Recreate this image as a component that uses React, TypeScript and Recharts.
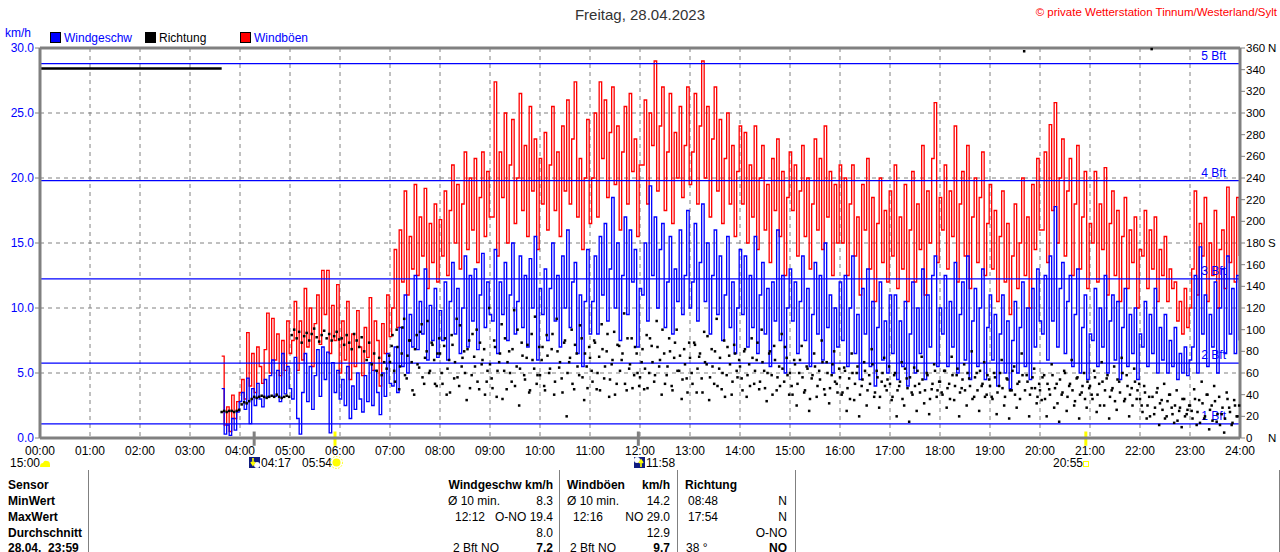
import React from "react";
import { CartesianGrid, ComposedChart, Line, ReferenceLine, XAxis, YAxis } from "recharts";

// Wind day chart of the Tinnum station: gusts (red steps), mean speed
// (blue steps) on km/h, direction as black dots on the 0..360 axis.

const FONT = '"Liberation Sans", Arial, sans-serif';
const GRAY = "#808080";
const BLUE = "#0000ff";
const RED = "#ff0000";
const YELLOW = "#ffff00";

// first reading at 03:38, then one every 3 minutes up to 23:59
const FIRST_MINUTE = 218;
const STEP_MINUTES = 3;

// one row per hour (03 has 8 readings, the rest 20)
const GUSTS = [
  6.3, 1.0, 2.4, 0.5, 3.3, 1.5, 2.8, 3.5,
  4.5, 3.0, 8.1, 4.0, 6.5, 3.5, 7.0, 5.5, 4.2, 6.8, 9.6, 5.0, 9.2, 6.0, 8.0, 4.8, 7.5, 5.2, 9.0, 6.5,
  7.5, 10.5, 5.2, 9.0, 6.0, 11.5, 7.0, 10.0, 5.5, 8.8, 11.0, 7.2, 12.9, 9.5, 12.9, 6.5, 10.2, 7.5, 11.8, 5.0,
  9.0, 6.0, 10.5, 4.5, 8.0, 5.5, 9.8, 7.0, 4.8, 8.5, 6.2, 10.8, 5.2, 9.0, 7.5, 4.0, 8.8, 6.5, 11.0, 7.8,
  10.0, 14.5, 8.5, 16.0, 12.0, 19.0, 11.0, 15.5, 13.0, 19.5, 12.5, 17.0, 14.0, 19.2, 11.5, 16.5, 13.5, 18.0, 12.0, 16.8,
  14.0, 19.0, 12.5, 17.5, 21.0, 15.0, 19.5, 13.0, 18.0, 22.0, 14.5, 20.0, 16.0, 21.5, 13.5, 18.5, 22.0, 15.5, 20.5, 17.0,
  17.0, 27.4, 14.0, 22.0, 18.5, 25.0, 15.0, 21.0, 24.5, 16.5, 20.0, 26.5, 17.5, 22.5, 15.5, 25.5, 19.0, 23.0, 14.5, 21.5,
  18.0, 23.5, 16.0, 21.0, 25.5, 17.5, 22.0, 15.5, 24.0, 19.0, 26.0, 18.0, 23.0, 27.4, 17.0, 21.5, 14.5, 20.0, 24.5, 16.5,
  20.0, 25.0, 17.0, 27.4, 21.5, 26.0, 18.5, 23.5, 27.0, 19.5, 24.0, 16.0, 22.0, 25.5, 18.0, 26.5, 20.5, 23.0, 15.5, 21.0,
  21.0, 26.0, 18.0, 25.0, 22.5, 29.0, 19.0, 24.0, 27.0, 17.5, 22.0, 26.5, 16.5, 23.5, 20.0, 25.5, 18.5, 22.5, 27.0, 19.5,
  22.0, 26.5, 18.0, 24.0, 29.0, 20.0, 25.5, 17.0, 23.0, 27.0, 19.0, 24.5, 16.5, 21.5, 25.0, 18.0, 22.5, 15.5, 20.5, 24.0,
  18.0, 23.5, 15.0, 21.0, 17.0, 24.0, 14.5, 20.0, 22.5, 16.0, 19.5, 13.5, 21.5, 17.5, 23.0, 15.5, 20.5, 12.5, 18.5, 22.0,
  17.5, 21.0, 14.0, 19.0, 22.5, 15.5, 20.0, 13.0, 18.0, 23.0, 16.0, 21.5, 14.5, 24.0, 17.0, 20.5, 12.5, 19.5, 15.0, 21.0,
  15.0, 20.0, 12.5, 18.0, 21.0, 14.0, 17.0, 11.0, 19.5, 16.0, 21.5, 13.0, 18.5, 10.5, 16.5, 20.0, 13.5, 17.5, 12.0, 19.0,
  14.0, 21.0, 11.5, 17.0, 13.0, 19.5, 10.5, 16.0, 20.5, 12.0, 18.0, 14.5, 22.5, 11.0, 19.0, 15.0, 21.5, 25.8, 13.5, 18.5,
  16.0, 21.0, 13.0, 19.0, 15.5, 24.0, 12.0, 18.0, 20.5, 14.0, 22.5, 11.5, 17.0, 20.0, 13.5, 18.5, 22.0, 12.5, 16.5, 19.5,
  13.0, 17.5, 10.5, 15.5, 19.0, 12.0, 16.5, 9.5, 14.0, 18.0, 11.5, 15.0, 20.0, 12.5, 17.0, 10.0, 19.5, 14.5, 21.5, 16.0,
  16.0, 22.0, 13.5, 24.1, 17.5, 25.8, 15.0, 20.0, 23.0, 14.0, 19.0, 21.5, 12.5, 18.0, 22.5, 13.0, 17.0, 20.5, 11.5, 16.5,
  15.0, 20.5, 12.0, 18.0, 14.5, 20.8, 11.0, 16.5, 19.0, 12.5, 17.5, 10.5, 15.5, 18.5, 11.5, 16.0, 13.5, 17.0, 10.0, 14.5,
  14.0, 17.5, 11.5, 16.0, 13.0, 17.0, 10.5, 14.5, 12.5, 15.5, 10.5, 13.0, 11.5, 12.0, 9.0, 10.5, 8.0, 11.5, 8.5, 10.0,
  13.0, 19.0, 11.0, 16.5, 14.0, 18.5, 10.5, 15.0, 12.5, 17.5, 10.0, 14.5, 16.0, 11.5, 19.3, 13.5, 17.0, 12.0, 18.5, 14.0,
];

const SPEEDS = [
  3.8, 0.3, 1.0, 0.2, 1.5, 0.6, 2.0, 2.8,
  3.5, 2.2, 4.6, 1.1, 3.8, 2.5, 4.2, 3.0, 2.4, 4.5, 3.2, 4.8, 6.0, 3.2, 5.2, 2.8, 6.5, 3.4, 5.5, 3.8,
  3.0, 6.2, 1.5, 0.3, 3.5, 6.5, 2.8, 5.5, 2.2, 4.8, 6.8, 3.2, 7.0, 4.5, 6.6, 0.4, 5.8, 3.5, 5.2, 3.0,
  4.5, 2.5, 5.5, 1.5, 4.0, 2.2, 5.0, 3.0, 2.0, 4.8, 2.8, 5.8, 2.5, 5.2, 3.5, 1.8, 5.0, 3.2, 6.5, 4.2,
  4.0, 7.0, 3.5, 8.5, 5.5, 11.0, 5.0, 9.5, 7.0, 12.5, 6.8, 10.5, 8.0, 13.0, 6.0, 10.2, 7.5, 11.5, 6.2, 9.8,
  7.5, 12.0, 6.0, 10.5, 13.5, 8.0, 11.5, 6.5, 10.0, 14.0, 7.0, 12.5, 9.0, 13.0, 6.8, 11.0, 14.2, 8.5, 12.0, 9.5,
  9.0, 14.5, 6.5, 12.0, 9.5, 13.5, 7.5, 11.0, 15.0, 8.0, 10.5, 14.0, 8.5, 12.5, 7.0, 13.8, 10.0, 15.5, 6.0, 11.5,
  9.5, 13.0, 7.5, 11.5, 15.0, 9.0, 12.5, 7.0, 14.0, 10.0, 16.0, 8.5, 12.0, 13.5, 6.5, 11.0, 5.5, 10.5, 14.5, 8.0,
  10.5, 14.0, 8.0, 15.5, 11.0, 16.5, 9.0, 13.0, 18.5, 10.0, 15.0, 7.5, 12.5, 17.0, 9.5, 16.0, 12.0, 14.5, 7.0, 11.5,
  11.0, 15.0, 9.0, 19.4, 12.5, 17.0, 10.0, 14.5, 16.5, 8.5, 12.0, 15.5, 8.0, 13.0, 10.5, 16.0, 9.5, 12.5, 17.5, 10.0,
  12.0, 16.5, 9.0, 13.5, 18.0, 10.5, 15.0, 8.0, 12.5, 16.0, 9.5, 14.0, 7.5, 11.0, 15.5, 8.5, 12.0, 6.5, 10.0, 14.5,
  9.5, 14.0, 7.0, 12.5, 8.5, 15.5, 6.5, 11.0, 13.5, 8.0, 11.5, 5.5, 12.0, 9.0, 16.0, 7.5, 12.5, 5.0, 10.0, 13.0,
  9.0, 12.0, 6.5, 10.5, 14.0, 7.5, 11.5, 5.5, 9.5, 13.5, 8.0, 12.5, 6.0, 15.0, 8.5, 11.0, 5.0, 10.0, 7.0, 12.0,
  7.5, 12.5, 5.5, 10.0, 14.0, 6.5, 9.5, 4.5, 11.5, 8.0, 13.0, 5.5, 10.5, 4.0, 8.5, 12.0, 6.0, 9.0, 5.0, 11.0,
  6.5, 11.0, 4.5, 9.0, 5.5, 10.5, 4.0, 8.0, 12.0, 5.0, 10.0, 6.5, 13.0, 4.5, 11.0, 7.0, 12.5, 14.0, 5.5, 10.0,
  8.0, 12.5, 5.5, 10.5, 7.0, 13.5, 5.0, 9.5, 12.0, 6.0, 14.0, 4.5, 9.0, 11.5, 5.5, 10.0, 13.0, 4.5, 8.5, 11.0,
  6.0, 9.5, 4.0, 8.0, 11.0, 5.0, 9.0, 3.8, 7.5, 10.5, 5.0, 8.5, 12.0, 5.5, 10.0, 4.5, 11.5, 7.0, 13.0, 9.0,
  8.0, 12.5, 6.0, 14.0, 9.0, 17.8, 7.0, 11.5, 13.5, 6.5, 10.5, 12.5, 5.5, 9.5, 13.0, 5.0, 8.5, 11.0, 4.5, 8.0,
  7.5, 11.5, 5.5, 10.0, 7.0, 12.5, 5.0, 9.0, 11.0, 6.0, 10.5, 4.5, 8.5, 11.5, 5.5, 9.5, 6.5, 10.0, 4.5, 8.0,
  7.0, 10.5, 5.5, 9.5, 6.5, 11.5, 5.0, 8.5, 6.0, 9.5, 5.0, 7.5, 5.5, 8.5, 4.5, 6.5, 5.0, 7.0, 4.8, 6.0,
  7.0, 12.5, 5.0, 14.7, 8.0, 11.0, 5.5, 9.5, 7.0, 12.0, 5.0, 10.0, 13.0, 6.5, 14.0, 8.0, 11.5, 6.5, 12.5, 7.5,
];

const DIRECTIONS = [
  24, 25, 24, 25, 25, 24, 25, 26,
  31, 33, 32, 34, 36, 38, 37, 38, 39, 38, 37, 38, 39, 38, 40, 38, 37, 38, 39, 38,
  95, 100, 92, 98, 88, 94, 97, 90, 96, 101, 93, 89, 95, 99, 92, 96, 90, 94, 98, 91,
  92, 86, 95, 88, 82, 96, 90, 84, 93, 80, 72, 88, 68, 78, 62, 74, 58, 70, 64, 76,
  85, 62, 100, 45, 78, 110, 55, 90, 70, 40, 95, 65, 105, 50, 80, 60, 88, 72, 48, 92,
  60, 85, 40, 72, 95, 55, 110, 48, 66, 80, 35, 90, 58, 75, 100, 45, 68, 82, 52, 120,
  55, 90, 38, 70, 105, 62, 45, 80, 52, 118, 66, 30, 88, 58, 74, 42, 96, 64, 50, 84,
  72, 48, 95, 60, 82, 40, 110, 65, 55, 88, 20, 70, 100, 45, 78, 58, 92, 35, 66, 84,
  62, 90, 45, 75, 105, 55, 80, 38, 68, 98, 50, 85, 72, 115, 44, 64, 92, 58, 78, 48,
  70, 45, 95, 60, 85, 52, 108, 66, 40, 78, 58, 92, 48, 74, 100, 62, 36, 82, 55, 88,
  60, 88, 42, 75, 55, 98, 68, 35, 82, 50, 110, 64, 45, 90, 58, 76, 40, 86, 62, 72,
  55, 80, 38, 68, 92, 50, 72, 45, 100, 62, 34, 78, 58, 85, 44, 66, 96, 52, 74, 40,
  48, 72, 30, 60, 85, 42, 66, 25, 55, 78, 38, 62, 90, 45, 70, 32, 58, 80, 50, 64,
  40, 65, 25, 55, 78, 35, 60, 20, 48, 70, 30, 58, 82, 38, 62, 28, 52, 74, 44, 66,
  35, 58, 20, 48, 70, 30, 55, 15, 42, 65, 25, 50, 75, 32, 60, 22, 45, 68, 38, 52,
  42, 62, 28, 50, 75, 35, 58, 20, 46, 68, 30, 55, 80, 38, 60, 25, 48, 70, 40, 54,
  38, 60, 22, 48, 72, 30, 55, 18, 44, 66, 28, 52, 78, 357, 58, 20, 46, 64, 32, 50,
  35, 58, 20, 45, 68, 28, 50, 15, 40, 62, 25, 48, 72, 30, 55, 18, 42, 60, 28, 46,
  40, 62, 24, 50, 70, 30, 55, 18, 44, 66, 26, 52, 74, 34, 58, 20, 46, 64, 36, 50,
  30, 48, 18, 38, 359, 22, 42, 12, 35, 50, 20, 40, 28, 14, 44, 25, 10, 36, 22, 30,
  25, 45, 12, 35, 52, 18, 40, 8, 30, 48, 15, 38, 22, 5, 42, 28, 12, 35, 20, 30,
];

// the direction sensor logs more often than the wind: extra readings from
// 07:00 on, every 3 minutes, sitting between the ones above
const EXTRA_DIR_FIRST_MINUTE = 420;
const EXTRA_DIRECTIONS = [
  70, 95, 52, 84, 66, 102, 58, 76, 90, 44, 82, 68, 98, 56, 74, 108, 62, 86, 50, 78,
  78, 50, 92, 64, 42, 86, 70, 56, 104, 74, 60, 82, 46, 96, 66, 52, 88, 72, 40, 62,
  68, 46, 84, 62, 78, 36, 92, 70, 60, 82, 48, 100, 64, 76, 54, 86, 44, 72, 112, 58,
  58, 84, 44, 76, 64, 96, 52, 80, 70, 42, 90, 60, 74, 50, 86, 66, 104, 56, 78, 46,
  74, 52, 88, 60, 44, 82, 66, 96, 54, 72, 40, 86, 62, 78, 50, 92, 68, 46, 84, 60,
  56, 82, 64, 46, 92, 70, 58, 84, 72, 100, 50, 66, 80, 44, 88, 62, 76, 54, 68, 42,
  74, 50, 86, 64, 78, 42, 70, 94, 56, 66, 80, 48, 74, 60, 38, 84, 68, 52, 78, 56,
  66, 44, 82, 58, 48, 74, 62, 88, 52, 70, 46, 60, 80, 40, 72, 56, 48, 64, 84, 58,
  60, 40, 68, 50, 72, 56, 44, 64, 36, 58, 66, 48, 54, 70, 40, 60, 46, 68, 52, 42,
  56, 42, 62, 46, 36, 60, 50, 66, 40, 54, 62, 44, 50, 68, 42, 56, 38, 60, 48, 54,
  50, 38, 60, 44, 52, 36, 64, 46, 56, 40, 48, 62, 42, 54, 44, 58, 36, 50, 62, 44,
  52, 40, 62, 46, 36, 58, 48, 64, 42, 54, 44, 60, 48, 36, 56, 44, 62, 50, 38, 58,
  48, 36, 56, 42, 60, 46, 38, 54, 44, 62, 40, 50, 36, 58, 44, 52, 40, 56, 46, 38,
  44, 56, 36, 50, 40, 58, 46, 32, 54, 42, 60, 38, 50, 44, 34, 56, 40, 48, 36, 52,
  48, 36, 56, 40, 30, 52, 44, 58, 38, 46, 34, 54, 42, 60, 36, 48, 40, 30, 52, 44,
  36, 24, 42, 30, 20, 38, 28, 46, 32, 26, 18, 34, 40, 22, 30, 16, 28, 36, 20, 26,
  30, 18, 36, 24, 14, 32, 20, 40, 26, 16, 34, 22, 12, 28, 18, 36, 24, 14, 30, 20,
];

// direction held over from the previous day until the first reading
const HOLD_MINUTES = [0, 218];
const HOLD_DIRECTION = [341, 341];

const HOUR_LABELS = [
  "00:00", "01:00", "02:00", "03:00", "04:00", "05:00", "06:00", "07:00", "08:00",
  "09:00", "10:00", "11:00", "12:00", "13:00", "14:00", "15:00", "16:00", "17:00",
  "18:00", "19:00", "20:00", "21:00", "22:00", "23:00", "24:00",
];
const KMH_TICKS = [0, 5, 10, 15, 20, 25, 30];
const DEG_TICKS = [0, 20, 40, 60, 80, 100, 120, 140, 160, 180, 200, 220, 240, 260, 280, 300, 320, 340, 360];
const COMPASS: Record<number, string> = { 0: "N", 180: "S", 360: "N" };

// Beaufort limits (0.3 / 1.6 / 3.4 / 5.5 / 8.0 m/s)
const BFT_LABELS = ["1 Bft", "2 Bft", "3 Bft", "4 Bft", "5 Bft"];
const BFT_KMH = [1.08, 5.76, 12.24, 19.8, 28.8];

// moon rise, sunrise, moon set, sunset
const EVENT_TIMES = ["04:17", "05:54", "11:58", "20:55"];
const EVENT_COLORS = [GRAY, YELLOW, GRAY, YELLOW];

const TABLE_ROW_Y = [485, 501, 517, 533, 548];
const ROW_NAMES = ["Sensor", "MinWert", "MaxWert", "Durchschnitt", "28.04.  23:59"];
const SPEED_LEFT = ["", "Ø 10 min.", "12:12", "", "2 Bft NO"];
const SPEED_RIGHT = ["Windgeschw km/h", "8.3", "O-NO 19.4", "8.0", "7.2"];
const GUST_LEFT = ["Windböen", "Ø 10 min.", "12:16", "", "2 Bft NO"];
const GUST_RIGHT = ["km/h", "14.2", "NO 29.0", "12.9", "9.7"];
const DIR_LEFT = ["Richtung", "08:48", "17:54", "", "38 °"];
const DIR_RIGHT = ["", "N", "N", "O-NO", "NO"];

const toMinutes = (hhmm: string) => {
  const [h, m] = hhmm.split(":").map(Number);
  return h * 60 + m;
};

const data = GUSTS.map((gust, i) => ({
  t: FIRST_MINUTE + i * STEP_MINUTES,
  gust,
  speed: SPEEDS[i],
  dir: DIRECTIONS[i],
}));
const extraDirData = EXTRA_DIRECTIONS.map((dir, i) => ({
  t: EXTRA_DIR_FIRST_MINUTE + i * STEP_MINUTES,
  dir,
}));
const holdData = HOLD_MINUTES.map((t, i) => ({ t, dir: HOLD_DIRECTION[i] }));
const hourTicks = HOUR_LABELS.map((_, i) => i * 60);

function CompassTick(props: any) {
  const { x, y, payload } = props;
  const letter = COMPASS[payload.value];
  return (
    <g fontFamily={FONT} fontSize={11.5} fill="#000">
      <text x={x} y={y + 4}>{payload.value}</text>
      {letter && <text x={x + 22} y={y + 4}>{letter}</text>}
    </g>
  );
}

function BftLabel(props: any) {
  const vb = props.viewBox;
  if (!vb) return null;
  return (
    <text x={vb.x + vb.width - 14} y={vb.y - 4} textAnchor="end" fill={BLUE} fontSize={12} fontFamily={FONT}>
      {props.text}
    </text>
  );
}

const dirDot = (props: any) => {
  const { cx, cy, index } = props;
  if (cx == null || cy == null) return <g key={index} />;
  return <rect key={index} x={cx - 1.25} y={cy - 1.25} width={2.5} height={2.5} fill="#000" />;
};

function Txt({ x, y, text, right, bold, color, size }: any) {
  if (!text) return null;
  const style: React.CSSProperties = {
    position: "absolute",
    top: y - 7,
    lineHeight: "14px",
    fontSize: size ?? 12,
    fontWeight: bold ? 700 : 400,
    whiteSpace: "pre",
    color: color ?? "#000",
  };
  if (right) style.right = 1280 - x;
  else style.left = x;
  return <div style={style}>{text}</div>;
}

function MoonIcon({ x, up }: { x: number; up: boolean }) {
  return (
    <svg style={{ position: "absolute", left: x, top: 457 }} width={11} height={11}>
      <rect width={11} height={11} fill="#101c80" />
      <circle cx={up ? 3 : 8} cy={up ? 3 : 8} r={3} fill="#ffffff" />
      <path d={up ? "M7 10 L7 4 M5 6 L7 3 L9 6" : "M4 1 L4 7 M2 5 L4 8 L6 5"} stroke={YELLOW} strokeWidth={1.6} fill="none" />
    </svg>
  );
}

export default function App() {
  return (
    <div
      style={{
        position: "absolute",
        left: 0,
        top: 0,
        width: 1280,
        height: 552,
        overflow: "hidden",
        background: "#fff",
        fontFamily: FONT,
      }}
    >
      <ComposedChart width={1280} height={470} data={data} margin={{ top: 48, right: 0, bottom: 0, left: 0 }}>
        <CartesianGrid yAxisId="left" stroke={GRAY} strokeDasharray="4 4" />
        <XAxis
          dataKey="t"
          type="number"
          domain={[0, 1440]}
          ticks={hourTicks}
          interval={0}
          tickFormatter={(v: number) => HOUR_LABELS[v / 60]}
          height={32}
          tickLine={false}
          axisLine={{ stroke: GRAY, strokeWidth: 3 }}
          tick={{ fill: "#000", fontSize: 12, fontFamily: FONT }}
        />
        <YAxis
          yAxisId="left"
          domain={[0, 30]}
          ticks={KMH_TICKS}
          interval={0}
          width={40}
          tickSize={5}
          tickMargin={1}
          tickFormatter={(v: number) => v.toFixed(1)}
          tickLine={{ stroke: GRAY }}
          axisLine={{ stroke: GRAY, strokeWidth: 3 }}
          tick={{ fill: BLUE, fontSize: 12, fontFamily: FONT }}
        />
        <YAxis
          yAxisId="right"
          orientation="right"
          domain={[0, 360]}
          ticks={DEG_TICKS}
          interval={0}
          width={40}
          tickSize={5}
          tickMargin={1}
          tickLine={{ stroke: GRAY }}
          axisLine={{ stroke: GRAY, strokeWidth: 3 }}
          tick={<CompassTick />}
        />
        <Line
          yAxisId="left"
          dataKey="gust"
          type="stepAfter"
          stroke={RED}
          strokeWidth={1.3}
          dot={false}
          activeDot={false}
          isAnimationActive={false}
        />
        <Line
          yAxisId="left"
          dataKey="speed"
          type="stepAfter"
          stroke={BLUE}
          strokeWidth={1.3}
          dot={false}
          activeDot={false}
          isAnimationActive={false}
        />
        <Line
          yAxisId="right"
          data={holdData}
          dataKey="dir"
          stroke="#000"
          strokeWidth={2.5}
          dot={false}
          activeDot={false}
          isAnimationActive={false}
        />
        <Line
          yAxisId="right"
          dataKey="dir"
          stroke="none"
          dot={dirDot}
          activeDot={false}
          isAnimationActive={false}
        />
        <Line
          yAxisId="right"
          data={extraDirData}
          dataKey="dir"
          stroke="none"
          dot={dirDot}
          activeDot={false}
          isAnimationActive={false}
        />
        {BFT_KMH.map((v, i) => (
          <ReferenceLine
            key={BFT_LABELS[i]}
            yAxisId="left"
            y={v}
            stroke={BLUE}
            strokeWidth={1.2}
            label={<BftLabel text={BFT_LABELS[i]} />}
          />
        ))}
        <ReferenceLine yAxisId="left" y={30} stroke={GRAY} strokeWidth={3} />
        {EVENT_TIMES.map((time, i) => (
          <ReferenceLine
            key={time}
            yAxisId="left"
            ifOverflow="visible"
            segment={[
              { x: toMinutes(time), y: 0.5 },
              { x: toMinutes(time), y: -0.6 },
            ]}
            stroke={EVENT_COLORS[i]}
            strokeWidth={3}
          />
        ))}
      </ComposedChart>

      {/* title, credit and legend */}
      <div
        style={{
          position: "absolute",
          left: 0,
          width: 1280,
          top: 6,
          textAlign: "center",
          fontSize: 15,
          lineHeight: "18px",
          color: "#333",
        }}
      >
        Freitag, 28.04.2023
      </div>
      <Txt x={1277} y={12} right text="© private Wetterstation Tinnum/Westerland/Sylt" color={RED} size={11.5} />
      <Txt x={5} y={33} text="km/h" color={BLUE} />
      {[
        { x: 50, fill: BLUE, label: "Windgeschw", color: BLUE },
        { x: 145, fill: "#000", label: "Richtung", color: "#000" },
        { x: 240, fill: RED, label: "Windböen", color: BLUE },
      ].map((l) => (
        <React.Fragment key={l.label}>
          <div
            style={{
              position: "absolute",
              left: l.x,
              top: 32,
              width: 9,
              height: 9,
              background: l.fill,
              border: "1px solid #000",
            }}
          />
          <Txt x={l.x + 14} y={38} text={l.label} color={l.color} />
        </React.Fragment>
      ))}

      {/* second row below the time axis */}
      <Txt x={10} y={463} text="15:00" />
      <svg style={{ position: "absolute", left: 39, top: 459 }} width={12} height={9}>
        <path d="M1 8 Q1 4 4 4 Q5 1 8 2 Q11 2 11 6 L11 8 Z" fill={YELLOW} />
      </svg>
      <MoonIcon x={249} up={false} />
      <Txt x={261} y={463} text="04:17" />
      <Txt x={302} y={463} text="05:54" />
      <svg style={{ position: "absolute", left: 330, top: 456 }} width={13} height={13}>
        <circle cx={6.5} cy={6.5} r={4} fill={YELLOW} />
        <circle cx={6.5} cy={6.5} r={6} fill="none" stroke={YELLOW} strokeDasharray="1.5 1.5" />
      </svg>
      <MoonIcon x={634} up={true} />
      <Txt x={646} y={463} text="11:58" />
      <Txt x={1053} y={463} text="20:55" />
      <div
        style={{
          position: "absolute",
          left: 1083,
          top: 461,
          width: 4,
          height: 4,
          border: `1px solid ${YELLOW}`,
        }}
      />

      {/* summary table */}
      {[88, 559, 677, 795, 1279].map((x) => (
        <div key={x} style={{ position: "absolute", left: x, top: 470, width: 1, height: 90, background: GRAY }} />
      ))}
      {TABLE_ROW_Y.map((y, r) => (
        <React.Fragment key={y}>
          <Txt x={8} y={y} text={ROW_NAMES[r]} bold />
          <Txt x={r === 2 ? 455 : r === 4 ? 453 : 448} y={y} text={SPEED_LEFT[r]} />
          <Txt x={553} y={y} right text={SPEED_RIGHT[r]} bold={r === 0 || r === 4} />
          <Txt x={r === 2 ? 573 : r === 4 ? 570 : 567} y={y} text={GUST_LEFT[r]} bold={r === 0} />
          <Txt x={670} y={y} right text={GUST_RIGHT[r]} bold={r === 0 || r === 4} />
          <Txt x={r === 0 ? 685 : r === 4 ? 686 : 688} y={y} text={DIR_LEFT[r]} bold={r === 0} />
          <Txt x={787} y={y} right text={DIR_RIGHT[r]} bold={r === 4} />
        </React.Fragment>
      ))}
    </div>
  );
}
